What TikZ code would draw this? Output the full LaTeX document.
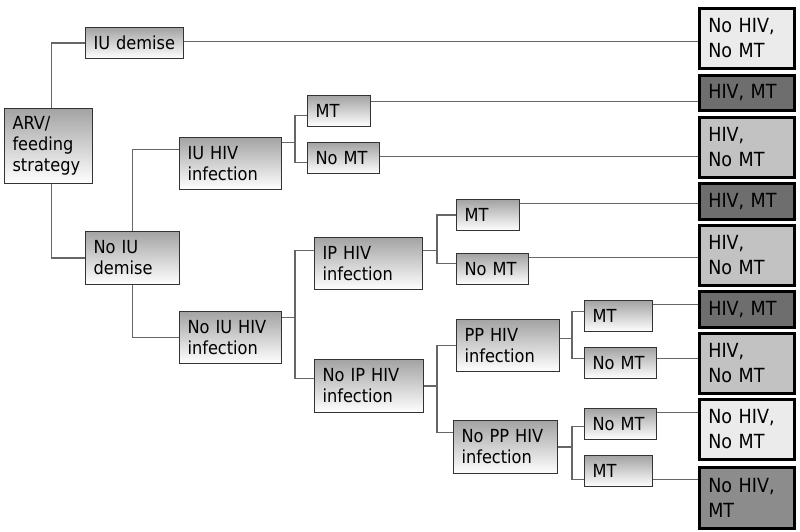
\documentclass[tikz,border=0pt]{standalone}
\usepackage{fontspec}
\setmainfont{DejaVu Sans Condensed}

\definecolor{outlight}{HTML}{EBEBEB}
\definecolor{outdark}{HTML}{6E6E6E}
\definecolor{outmid}{HTML}{C2C2C2}
\definecolor{outgrey}{HTML}{8C8C8C}
\definecolor{linkgrey}{HTML}{666666}

\tikzset{
  stage/.style={draw=black!80, line width=1.1pt, top color=black!36, bottom color=white,
    anchor=north west, inner xsep=8pt, inner ysep=0pt, align=left,
    font=\fontsize{18}{21}\selectfont},
  outcome/.style={draw=black, line width=2.6pt, anchor=north west, inner xsep=9pt,
    inner ysep=0pt, text width=77pt, align=left, font=\fontsize{19.5}{25}\selectfont},
  branch/.style={draw=linkgrey, line width=1.3pt},
}

\begin{document}
\begin{tikzpicture}[x=1pt, y=-1pt]
        \fill[white] (0,0) rectangle (800,531);

        % decision boxes
        \node[stage, text width=72pt, minimum height=75pt] (arv) at (4,108) {ARV/\\feeding\\strategy};
        \node[stage, text width=82pt, minimum height=31pt] (iud) at (85,27) {IU demise};
        \node[stage, text width=78pt, minimum height=53pt] (noiud) at (85,231) {No IU\\demise};
        \node[stage, text width=86pt, minimum height=52pt] (iuhiv) at (179,137) {IU HIV\\infection};
        \node[stage, text width=86pt, minimum height=52pt] (noiuhiv) at (179,311) {No IU HIV\\infection};
        \node[stage, text width=47pt, minimum height=31pt] (mt1) at (307,95) {MT};
        \node[stage, text width=56pt, minimum height=31pt] (nomt1) at (307,142) {No MT};
        \node[stage, text width=92pt, minimum height=52pt] (iphiv) at (314,237) {IP HIV\\infection};
        \node[stage, text width=93pt, minimum height=53pt] (noiphiv) at (314,359) {No IP HIV\\infection};
        \node[stage, text width=47pt, minimum height=31pt] (mt2) at (456,199) {MT};
        \node[stage, text width=56pt, minimum height=31pt] (nomt2) at (456,253) {No MT};
        \node[stage, text width=87pt, minimum height=52pt] (pphiv) at (456,319) {PP HIV\\infection};
        \node[stage, text width=88pt, minimum height=53pt] (nopphiv) at (453,420) {No PP HIV\\infection};
        \node[stage, text width=52pt, minimum height=31pt] (mt3) at (584,300) {MT};
        \node[stage, text width=56pt, minimum height=31pt] (nomt3) at (584,347) {No MT};
        \node[stage, text width=56pt, minimum height=31pt] (nomt4) at (584,408) {No MT};
        \node[stage, text width=52pt, minimum height=31pt] (mt4) at (584,455) {MT};

        % outcomes
        \node[outcome, fill=outlight, minimum height=60pt] (t1) at (698,7) {No HIV,\\No MT};
        \node[outcome, fill=outdark, minimum height=35pt] (t2) at (698,74) {HIV, MT};
        \node[outcome, fill=outmid, minimum height=60pt] (t3) at (698,116) {HIV,\\No MT};
        \node[outcome, fill=outdark, minimum height=36pt] (t4) at (698,182) {HIV, MT};
        \node[outcome, fill=outmid, minimum height=60pt] (t5) at (698,224) {HIV,\\No MT};
        \node[outcome, fill=outdark, minimum height=36pt] (t6) at (698,290) {HIV, MT};
        \node[outcome, fill=outmid, minimum height=60pt] (t7) at (698,332) {HIV,\\No MT};
        \node[outcome, fill=outlight, minimum height=60pt] (t8) at (698,398) {No HIV,\\No MT};
        \node[outcome, fill=outgrey, minimum height=61pt] (t9) at (698,466) {No HIV,\\MT};

        % branches
        \draw[branch] ([xshift=3pt]arv.north) |- (iud.west);
        \draw[branch] ([xshift=3pt]arv.south) |- (noiud.west);
        \draw[branch] (noiud.north) |- ([yshift=14pt]iuhiv.west);
        \draw[branch] (noiud.south) |- (noiuhiv.west);

        \draw[branch] ([yshift=21pt]iuhiv.east) -- ++(13,0) coordinate (s1);
        \draw[branch] (s1) |- ([yshift=-4.5pt]mt1.west);
        \draw[branch] (s1) |- ([yshift=-4.5pt]nomt1.west);

        \draw[branch] ([yshift=20pt]noiuhiv.east) -- ++(13,0) coordinate (s2);
        \draw[branch] (s2) |- ([yshift=13pt]iphiv.west);
        \draw[branch] (s2) |- ([yshift=7.5pt]noiphiv.west);

        \draw[branch] ([yshift=13pt]iphiv.east) -- ++(14,0) coordinate (s3);
        \draw[branch] (s3) |- (mt2.west);
        \draw[branch] (s3) |- ([yshift=5.5pt]nomt2.west);

        \draw[branch] (noiphiv.east) -- ++(13,0) coordinate (s4);
        \draw[branch] (s4) |- (pphiv.west);
        \draw[branch] (s4) |- ([yshift=14.5pt]nopphiv.west);

        \draw[branch] ([yshift=7pt]pphiv.east) -- ++(12,0) coordinate (s5);
        \draw[branch] (s5) |- ([yshift=4.5pt]mt3.west);
        \draw[branch] (s5) |- ([yshift=4.5pt]nomt3.west);

        \draw[branch] (nopphiv.east) -- ++(14,0) coordinate (s6);
        \draw[branch] (s6) |- ([yshift=-2.5pt]nomt4.west);
        \draw[branch] (s6) |- ([yshift=-8.5pt]mt4.west);

        % lines to outcomes
        \draw[branch] ([yshift=1.5pt]iud.east) -- ([yshift=1.5pt]iud.east -| t1.west);
        \draw[branch] ([yshift=9.5pt]mt1.east) -- ([yshift=9.5pt]mt1.east -| t2.west);
        \draw[branch] ([yshift=1.5pt]nomt1.east) -- ([yshift=1.5pt]nomt1.east -| t3.west);
        \draw[branch] ([yshift=11.5pt]mt2.east) -- ([yshift=11.5pt]mt2.east -| t4.west);
        \draw[branch] ([yshift=11.5pt]nomt2.east) -- ([yshift=11.5pt]nomt2.east -| t5.west);
        \draw[branch] ([yshift=11.5pt]mt3.east) -- ([yshift=11.5pt]mt3.east -| t6.west);
        \draw[branch] ([yshift=4.5pt]nomt3.east) -- ([yshift=4.5pt]nomt3.east -| t7.west);
        \draw[branch] ([yshift=11.5pt]nomt4.east) -- ([yshift=11.5pt]nomt4.east -| t8.west);
        \draw[branch] ([yshift=-8.5pt]mt4.east) -- ([yshift=-8.5pt]mt4.east -| t9.west);
\end{tikzpicture}
\end{document}
